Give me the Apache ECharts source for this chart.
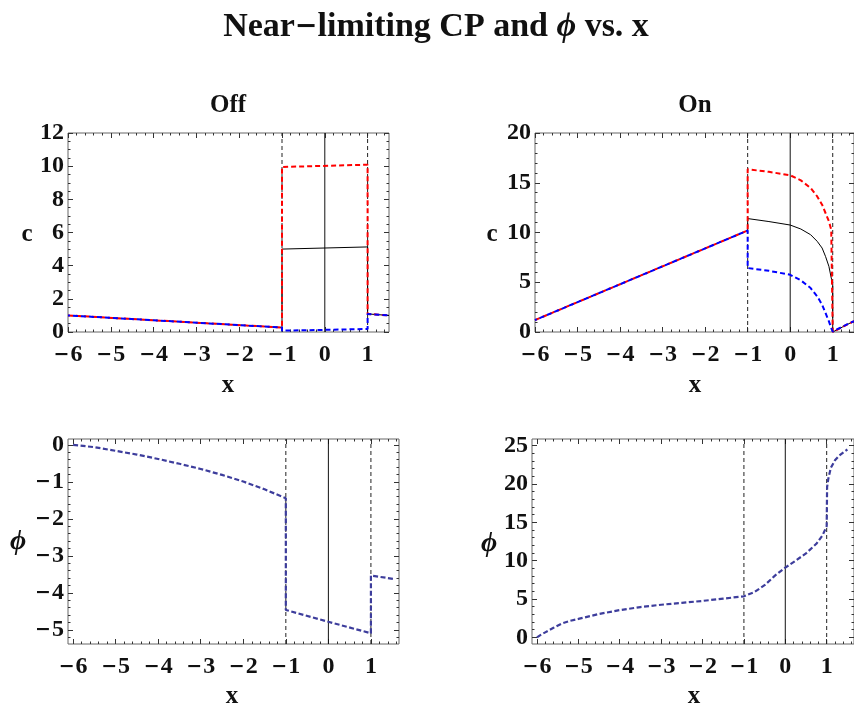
<!DOCTYPE html>
<html>
<head>
<meta charset="utf-8">
<script src="https://cdn.jsdelivr.net/npm/echarts@6/dist/echarts.min.js"></script>
<style>
  html, body { margin: 0; padding: 0; background: #fff; }
  #chart { width: 854px; height: 710px; }
</style>
</head>
<body>
<div id="chart"></div>
<script>
// ---------- concentration c, "Off" ----------
const offX     = [-6, -1, -1, 1, 1, 1.5];
const offTotal = [1.0, 0.27, 5.0, 5.13, 1.09, 1.0];
const offUpper = [1.0, 0.27, 9.95, 10.09, 1.09, 1.0];
const offLower = [1.0, 0.27, 0.08, 0.18, 1.09, 1.0];

// ---------- concentration c, "On" ----------
const onX     = [-6, -1, -1, -0.5, 0, 0.25, 0.48, 0.635, 0.75, 0.83, 0.91, 0.965, 1, 1, 1.5];
const onTotal = [1.2, 10.2, 11.4, 11.1, 10.75, 10.35, 9.78, 9.11, 8.44, 7.6, 6.6, 5.43, 4.95, 0, 1.1];
const onUpper = [1.2, 10.2, 16.35, 16.1, 15.75, 15.24, 14.47, 13.63, 12.79, 11.96, 11.12, 10.28, 10.2, 0, 1.1];
const onLower = [1.2, 10.2, 6.43, 6.15, 5.75, 5.19, 4.42, 3.58, 2.75, 1.91, 1.07, 0.4, 0.05, 0, 1.1];

// ---------- potential phi ----------
const phiOffX = [-6, -5.5, -5, -4.5, -4, -3.5, -3, -2.5, -2, -1.5, -1, -1, 0, 1, 1, 1.53];
const phiOff  = [0, -0.06, -0.16, -0.26, -0.38, -0.51, -0.65, -0.81, -0.99, -1.2, -1.44, -4.46, -4.78, -5.09, -3.53, -3.62];

const phiOnX = [-6, -5.9, -5.8, -5.6, -5.4, -5.2, -5, -4.5, -4, -3.5, -3, -2.5, -2, -1.5, -1,
                -0.75, -0.5, -0.25, 0, 0.25, 0.5, 0.75, 0.9, 1.0, 1.005, 1.01, 1.04, 1.1, 1.2, 1.3, 1.42, 1.5];
const phiOn  = [0, 0.35, 0.65, 1.25, 1.8, 2.15, 2.4, 3.05, 3.55, 3.95, 4.25, 4.5, 4.75, 5.05, 5.35,
                5.9, 6.8, 8.05, 9.1, 10.0, 10.95, 12.2, 13.3, 14.5, 17.0, 19.6, 20.7, 22.1, 23.1, 23.7, 24.2, 24.5];

// ---------- ticks ----------
const xMajor      = [-6, -5, -4, -3, -2, -1, 0, 1];
const cOffMajor   = [0, 2, 4, 6, 8, 10, 12];
const cOnMajor    = [0, 5, 10, 15, 20];
const phiOffMajor = [0, -1, -2, -3, -4, -5];
const phiOnMajor  = [0, 5, 10, 15, 20, 25];

// region boundaries (dashed) and the x = 0 axis (solid)
const boundaries = [-1, 1];
const centreLine = 0;

const FONT = 'Liberation Serif';
const TICK_COLOR = '#333';

function minorValues(min, max, step, major) {
  const out = [];
  const k0 = Math.ceil(min / step - 1e-9), k1 = Math.floor(max / step + 1e-9);
  for (let k = k0; k <= k1; k++) {
    const v = Math.round(k * step * 1000) / 1000;
    if (!major.some(m => Math.abs(m - v) < 1e-6)) out.push(v);
  }
  return out;
}
// heavy minus sign (rich style "m") in front of negative tick values
const fmt = v => (v < 0 ? '{m|\u2212}' + String(-v) : String(v));
const minusStyle = { fontFamily: 'DejaVu Serif', fontWeight: 'bold', fontSize: 19, color: '#111', padding: [0, 1, 0, 0] };

const xAxes = [], yAxes = [], grids = [], series = [];

function panel(box, xr, xStep, yr, yMajor, yStep, lines) {
  const gi = grids.length;
  grids.push({ left: box[0], top: box[1], width: box[2], height: box[3],
               show: true, borderColor: '#666', borderWidth: 1, backgroundColor: 'transparent' });
  const xMinor = minorValues(xr[0], xr[1], xStep, xMajor);
  const yMinor = minorValues(yr[0], yr[1], yStep, yMajor);
  const xi = xAxes.length, yi = yAxes.length;
  const base = (min, max) => ({ gridIndex: gi, type: 'value', min, max,
    axisLine: { show: false, onZero: false }, splitLine: { show: false } });
  const tick = (vals, len) => ({ show: true, inside: true, length: len, customValues: vals,
    lineStyle: { color: TICK_COLOR, width: 1 } });
  const lab = (vals, margin) => ({ show: true, customValues: vals, formatter: fmt, margin,
    fontFamily: FONT, fontWeight: 'bold', fontSize: 24, color: '#111', rich: { m: minusStyle } });
  // x axes: bottom major (labelled), bottom minor, top major, top minor
  xAxes.push(Object.assign(base(xr[0], xr[1]), { position: 'bottom', axisTick: tick(xMajor, 5), axisLabel: lab(xMajor, 11) }));
  xAxes.push(Object.assign(base(xr[0], xr[1]), { position: 'bottom', axisTick: tick(xMinor, 2.5), axisLabel: { show: false } }));
  xAxes.push(Object.assign(base(xr[0], xr[1]), { position: 'top', axisTick: tick(xMajor, 5), axisLabel: { show: false } }));
  xAxes.push(Object.assign(base(xr[0], xr[1]), { position: 'top', axisTick: tick(xMinor, 2.5), axisLabel: { show: false } }));
  // y axes: left major (labelled), left minor, right major, right minor
  yAxes.push(Object.assign(base(yr[0], yr[1]), { position: 'left', axisTick: tick(yMajor, 5), axisLabel: lab(yMajor, 4) }));
  yAxes.push(Object.assign(base(yr[0], yr[1]), { position: 'left', axisTick: tick(yMinor, 2.5), axisLabel: { show: false } }));
  yAxes.push(Object.assign(base(yr[0], yr[1]), { position: 'right', axisTick: tick(yMajor, 5), axisLabel: { show: false } }));
  yAxes.push(Object.assign(base(yr[0], yr[1]), { position: 'right', axisTick: tick(yMinor, 2.5), axisLabel: { show: false } }));

  // reference verticals
  boundaries.forEach(b => series.push({ type: 'line', xAxisIndex: xi, yAxisIndex: yi, silent: true,
    symbol: 'none', data: [[b, yr[0]], [b, yr[1]]],
    lineStyle: { color: '#222', width: 1, type: [4, 3] } }));
  series.push({ type: 'line', xAxisIndex: xi, yAxisIndex: yi, silent: true, symbol: 'none',
    data: [[centreLine, yr[0]], [centreLine, yr[1]]], lineStyle: { color: '#111', width: 1 } });

  lines.forEach(l => series.push({ type: 'line', xAxisIndex: xi, yAxisIndex: yi, symbol: 'none',
    data: l.x.map((v, i) => [v, l.y[i]]), lineStyle: l.style }));
}

const blackSolid = { color: '#000', width: 1 };
const redDash    = { color: '#ff0000', width: 2, type: [5, 3] };
const blueDash   = { color: '#0000ff', width: 2, type: [5, 3], dashOffset: 3 };
const phiDash    = { color: '#3d3d9c', width: 2.2, type: [5, 2.5] };

panel([68, 133, 321, 199], [-6, 1.5], 0.2, [0, 12], cOffMajor, 0.5, [
  { x: offX, y: offTotal, style: blackSolid },
  { x: offX, y: offUpper, style: redDash },
  { x: offX, y: offLower, style: blueDash }
]);
panel([535, 133, 321, 199], [-6, 1.5], 0.2, [0, 20], cOnMajor, 1, [
  { x: onX, y: onTotal, style: blackSolid },
  { x: onX, y: onUpper, style: redDash },
  { x: onX, y: onLower, style: blueDash }
]);
panel([68, 439, 331, 205], [-6.12, 1.66], 0.2, [-5.38, 0.16], phiOffMajor, 0.2, [
  { x: phiOffX, y: phiOff, style: phiDash }
]);
panel([532, 439, 331, 205], [-6.12, 1.66], 0.2, [-0.87, 25.87], phiOnMajor, 1, [
  { x: phiOnX, y: phiOn, style: phiDash }
]);

function label(text, x, y, size, italic) {
  return { type: 'text', x, y, silent: true,
    style: { text, fontFamily: FONT, fontWeight: 'bold', fontStyle: italic ? 'italic' : 'normal',
             fontSize: size, fill: '#111', align: 'center', verticalAlign: 'middle' } };
}

const graphics = [
  { type: 'text', x: 436, y: 27, silent: true,
    style: { text: '{b|Near}{m|\u2212}{b|limiting CP and }{i|\u03d5}{b| vs. x}', align: 'center', verticalAlign: 'middle',
      rich: {
        b: { fontFamily: FONT, fontWeight: 'bold', fontSize: 34, fill: '#111' },
        m: { fontFamily: 'DejaVu Serif', fontWeight: 'bold', fontSize: 27, fill: '#111' },
        i: { fontFamily: FONT, fontWeight: 'bold', fontStyle: 'italic', fontSize: 34, fill: '#111' }
      } } },
  label('Off', 228, 106, 25),
  label('On', 695, 106, 25),
  label('c', 27, 235, 25),
  label('c', 492, 235, 25),
  label('x', 228, 386, 25),
  label('x', 695, 386, 25),
  label('x', 232, 697, 25),
  label('x', 694, 697, 25),
  label('\u03d5', 18, 542, 28, true),
  label('\u03d5', 489, 544, 28, true)
];

const chart = echarts.init(document.getElementById('chart'), null, { renderer: 'canvas' });
chart.setOption({
  animation: false,
  backgroundColor: '#fff',
  grid: grids,
  xAxis: xAxes,
  yAxis: yAxes,
  series,
  graphic: graphics
});
</script>
</body>
</html>
